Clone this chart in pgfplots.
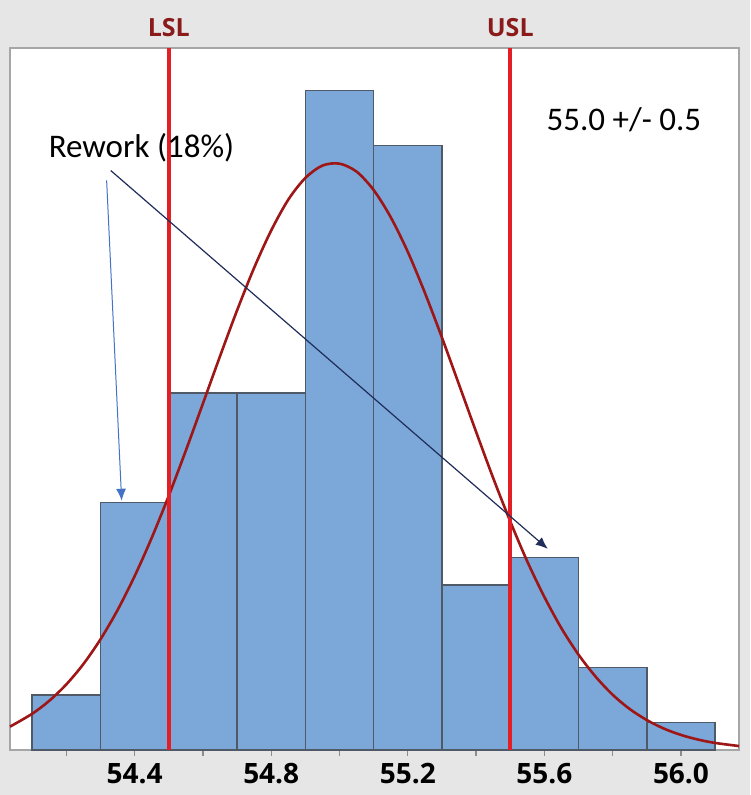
\documentclass[border=0pt]{standalone}
\usepackage{fontspec}
\setmainfont{Carlito}
\newfontfamily\osfont{Open Sans}
\usepackage{pgfplots}
\pgfplotsset{compat=1.18}
\usetikzlibrary{arrows.meta}
\definecolor{bgGray}{HTML}{E6E6E6}
\definecolor{frameGray}{HTML}{A6A6A6}
\definecolor{tickGray}{HTML}{8C8C8C}
\definecolor{barBlue}{HTML}{7BA7D9}
\definecolor{barEdge}{HTML}{4F5A66}
\definecolor{specRed}{HTML}{E31E24}
\definecolor{curveRed}{HTML}{9E1616}
\definecolor{labelRed}{HTML}{8B1A1A}
\definecolor{arrowBlue}{HTML}{4472C4}
\definecolor{arrowNavy}{HTML}{1F2D5A}
\begin{document}
\begin{tikzpicture}
\fill[bgGray] (0,0) rectangle (375pt,397.5pt);
\useasboundingbox (0,0) rectangle (375pt,397.5pt);
\begin{axis}[
  at={(5pt,22.5pt)}, anchor=south west,
  scale only axis, width=364.5pt, height=351pt,
  xmin=54.035, xmax=56.17, ymin=0, ymax=25.55,
  axis background/.style={fill=white},
  axis line style={draw=frameGray, line width=1pt},
  ytick=\empty,
  xtick={54.4,54.8,55.2,55.6,56.0},
  xticklabels={54.4,54.8,55.2,55.6,56.0},
  minor xtick={54.2,54.6,55.0,55.4,55.8},
  xtick pos=bottom, tick align=outside,
  major tick length=3pt, minor tick length=3pt,
  tick style={draw=tickGray, line width=0.6pt},
  xticklabel style={font=\osfont\bfseries\fontsize{14}{16}\selectfont, text=black},
  clip=false,
]
\addplot[ybar interval, fill=barBlue, draw=barEdge, line width=0.7pt] coordinates {
  (54.1,2) (54.3,9) (54.5,13) (54.7,13) (54.9,24) (55.1,22)
  (55.3,6) (55.5,7) (55.7,3) (55.9,1) (56.1,1)
};
\addplot[curveRed, line width=1.3pt, smooth, no marks] coordinates {
  (54.035,0.85) (54.10,1.319) (54.15,1.791) (54.20,2.388) (54.25,3.129)
  (54.30,4.029) (54.35,5.093) (54.40,6.328) (54.45,7.721) (54.50,9.256)
  (54.55,10.90) (54.60,12.61) (54.65,14.33) (54.70,16.00) (54.75,17.55)
  (54.80,18.91) (54.85,20.03) (54.90,20.82) (54.95,21.27) (55.00,21.34)
  (55.05,21.05) (55.10,20.38) (55.15,19.39) (55.20,18.13) (55.25,16.64)
  (55.30,15.01) (55.35,13.30) (55.40,11.58) (55.45,9.90) (55.50,8.32)
  (55.55,6.86) (55.60,5.57) (55.65,4.43) (55.70,3.47) (55.75,2.67)
  (55.80,2.01) (55.85,1.49) (55.90,1.09) (55.95,0.779) (56.00,0.548)
  (56.05,0.379) (56.10,0.257) (56.17,0.144)
};
\addplot[specRed, line width=2pt, no marks] coordinates {(54.5,0) (54.5,25.55)};
\addplot[specRed, line width=2pt, no marks] coordinates {(55.5,0) (55.5,25.55)};
\draw[arrowBlue, line width=0.5pt, -{Latex[length=6pt,width=5pt]}]
  (axis cs:54.318,20.73) -- (axis cs:54.362,9.07);
\draw[arrowNavy, line width=0.6pt, -{Latex[length=6pt,width=5pt]}]
  (axis cs:54.330,21.09) -- (axis cs:55.610,7.32);
\node[text=labelRed, font=\osfont\bfseries\fontsize{12.5}{14}\selectfont, yshift=10pt]
  at (axis cs:54.5,25.55) {LSL};
\node[text=labelRed, font=\osfont\bfseries\fontsize{12.5}{14}\selectfont, yshift=10pt]
  at (axis cs:55.5,25.55) {USL};
\node[font=\fontsize{16.5}{19}\selectfont, text=black] at (axis cs:54.42,21.93) {Rework (18\%)};
\node[font=\fontsize{16.5}{19}\selectfont, text=black] at (axis cs:55.833,22.95) {55.0 +/- 0.5};
\end{axis}
\end{tikzpicture}
\end{document}
